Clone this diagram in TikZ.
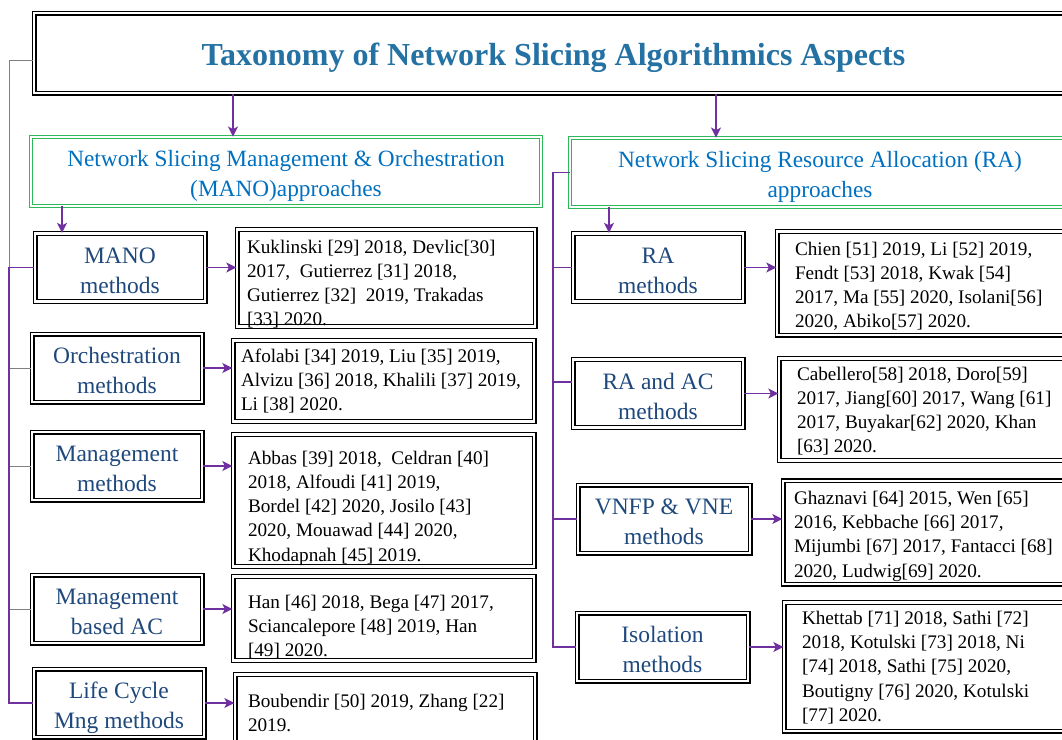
\documentclass[tikz,border=0pt]{standalone}
\usepackage{fontspec}
\setmainfont{Liberation Serif}
\usetikzlibrary{positioning,calc,arrows.meta,shadows}
\definecolor{TaxBlue}{HTML}{2471A3}
\definecolor{ApprBlue}{HTML}{0070C0}
\definecolor{MethBlue}{HTML}{1F497D}
\definecolor{LinkPurple}{HTML}{7030A0}
\definecolor{ApprGreen}{HTML}{2DB85A}
\definecolor{TreeGray}{HTML}{808080}
\frenchspacing

\tikzset{
  boxbase/.style={rectangle, fill=white, double, inner sep=0pt,
    drop shadow={shadow xshift=2pt, shadow yshift=-2pt, fill=black!10}},
  titlebox/.style={boxbase, draw=black, line width=1.3pt, double distance=2.4pt,
    text height=31pt, text depth=7pt,
    font=\fontsize{32}{36}\selectfont\bfseries, text=TaxBlue},
  apprbox/.style={boxbase, draw=ApprGreen, line width=0.9pt, double distance=2.2pt,
    text width=490pt, text height=24pt, align=flush center,
    font=\fontsize{23.3}{30}\selectfont, text=ApprBlue},
  methbox/.style={boxbase, draw=black, line width=1.3pt, double distance=2.4pt,
    minimum width=170pt, text width=166pt, text height=29.5pt, text depth=38.5pt,
    align=flush center, font=\fontsize{23.5}{30}\selectfont, text=MethBlue},
  refbox/.style={boxbase, draw=black, line width=1.3pt, double distance=2.4pt,
    align=flush left, font=\fontsize{19.2}{24.3}\selectfont},
  link/.style={LinkPurple, line width=1.5pt, -{Stealth[length=10pt,width=10pt,inset=2.5pt]}},
  spine/.style={LinkPurple, line width=1.5pt},
  tree/.style={TreeGray, line width=0.9pt},
}

\begin{document}
\begin{tikzpicture}[x=1pt, y=-1pt]
  \useasboundingbox (0,0) rectangle (1062,739);
  \clip (0,0) rectangle (1062,739);
  \coordinate (lspine) at (9,0);
  \coordinate (rspine) at (553,0);

  % title
  \node[titlebox, minimum width=1039pt, minimum height=80pt] (title) at (553.5,53)
    {Taxonomy of Network Slicing Algorithmics Aspects};

  % approaches
  \node[apprbox, minimum width=510pt, minimum height=69pt] (manoAppr) at (286,171.5)
    {Network Slicing Management \& Orchestration\\(MANO)approaches};
  \node[apprbox, minimum width=500pt, minimum height=69pt] (raAppr) at (820,172.5)
    {Network Slicing Resource Allocation (RA)\\approaches};

  % MANO side
  \node[methbox] (manoM) at (120,267.5) {MANO\\methods};
  \node[methbox] (orchM) at (117,368) {Orchestration\\methods};
  \node[methbox] (mgmtM) at (117,466) {Management\\methods};
  \node[methbox] (mgmtAcM) at (117,609) {Management\\based AC};
  \node[methbox] (lifeM) at (119,703) {Life Cycle\\Mng methods};

  \node[refbox, minimum width=298pt, text width=278pt, text height=23.5pt, text depth=73.5pt]
    (manoRef) at (386,278)
    {Kuklinski [29] 2018, Devlic[30]\\2017,\ \ Gutierrez [31] 2018,\\Gutierrez [32]\ \ 2019, Trakadas\\{[33]} 2020.};
  \node[refbox, minimum width=301pt, text width=285pt, text height=21.5pt, text depth=59.5pt]
    (orchRef) at (383.5,381)
    {Afolabi [34] 2019, Liu [35] 2019,\\Alvizu [36] 2018, Khalili [37] 2019,\\Li [38] 2020.};
  \node[refbox, minimum width=301pt, text width=271pt, text height=29.5pt, text depth=102.5pt]
    (mgmtRef) at (383.5,500.5)
    {Abbas [39] 2018,\ \ Celdran [40]\\2018, Alfoudi [41] 2019,\\Bordel [42] 2020, Josilo [43]\\2020, Mouawad [44] 2020,\\Khodapnah [45] 2019.};
  \node[refbox, minimum width=301pt, text width=271pt, text height=31.5pt, text depth=52.5pt]
    (mgmtAcRef) at (383.5,618.5)
    {Han [46] 2018, Bega [47] 2017,\\Sciancalepore [48] 2019, Han\\{[49]} 2020.};
  \node[refbox, minimum width=300pt, text width=274pt, text height=32.5pt, text depth=43.5pt]
    (lifeRef) at (385,712.5)
    {Boubendir [50] 2019, Zhang [22]\\2019.};

  % RA side
  \node[methbox] (raM) at (658,267.5) {RA\\methods};
  \node[methbox] (raAcM) at (658,393.5) {RA and AC\\methods};
  \node[methbox, minimum width=172pt] (vnfM) at (664,519) {VNFP \& VNE\\methods};
  \node[methbox, minimum width=171pt] (isoM) at (662.5,647) {Isolation\\methods};

  \node[refbox, minimum width=313pt, text width=277pt, text height=23.5pt, text depth=80pt]
    (raRef) at (933.5,283.25)
    {Chien [51] 2019, Li [52] 2019,\\Fendt [53] 2018, Kwak [54]\\2017, Ma [55] 2020, Isolani[56]\\2020, Abiko[57] 2020.};
  \node[refbox, minimum width=311pt, text width=275pt, text height=21.5pt, text depth=80.5pt]
    (raAcRef) at (934.5,409.5)
    {Cabellero[58] 2018, Doro[59]\\2017, Jiang[60] 2017, Wang [61]\\2017, Buyakar[62] 2020, Khan\\{[63]} 2020.};
  \node[refbox, minimum width=307pt, text width=285pt, text height=23.5pt, text depth=80pt]
    (vnfRef) at (936.5,532.5)
    {Ghaznavi [64] 2015, Wen [65]\\2016, Kebbache [66] 2017,\\Mijumbi [67] 2017, Fantacci [68]\\2020, Ludwig[69] 2020.};
  \node[refbox, minimum width=306pt, text width=270pt, text height=21.8pt, text depth=106.7pt]
    (isoRef) at (937,666.75)
    {Khettab [71] 2018, Sathi [72]\\2018, Kotulski [73] 2018, Ni\\{[74]} 2018, Sathi [75] 2020,\\Boutigny [76] 2020, Kotulski\\{[77]} 2020.};

  % connectors
  \draw[tree] ([yshift=-7pt]title.west) -| (lspine |- mgmtAcM.west);
  \path (manoAppr.north) ++(-53,0) coordinate (manoIn);
  \path (raAppr.north) ++(-104,0) coordinate (raIn);
  \path (manoM.north) ++(-58,0) coordinate (manoDown);
  \path (raM.north) ++(-49,0) coordinate (raDown);
  \path (raAcM.west) ++(0,-11.5) coordinate (raAcIn);
  \draw[link] (manoIn |- title.south) -- (manoIn);
  \draw[link] (raIn |- title.south) -- (raIn);
  \draw[link] (manoDown |- manoAppr.south) -- (manoDown);
  \draw[link] (raDown |- raAppr.south) -- (raDown);

  \foreach \m in {orchM, mgmtM, mgmtAcM}
    \draw[tree] (lspine |- \m.west) -- (\m.west);
  \draw[spine] (manoM.west) -- (lspine |- manoM.west) -- (lspine |- lifeM.west) -- (lifeM.west);
  \draw[spine] (raAppr.west) -| (rspine |- isoM.west) -- (isoM.west);
  \foreach \m in {raM, raAcIn, vnfM}
    \draw[spine] (rspine |- \m) -- (\m);

  \foreach \m/\r in {manoM/manoRef, orchM/orchRef, mgmtM/mgmtRef, mgmtAcM/mgmtAcRef,
      lifeM/lifeRef, raM/raRef, raAcM/raAcRef, vnfM/vnfRef, isoM/isoRef}
    \draw[link] (\m.east) -- (\m.east -| \r.west);
\end{tikzpicture}
\end{document}
